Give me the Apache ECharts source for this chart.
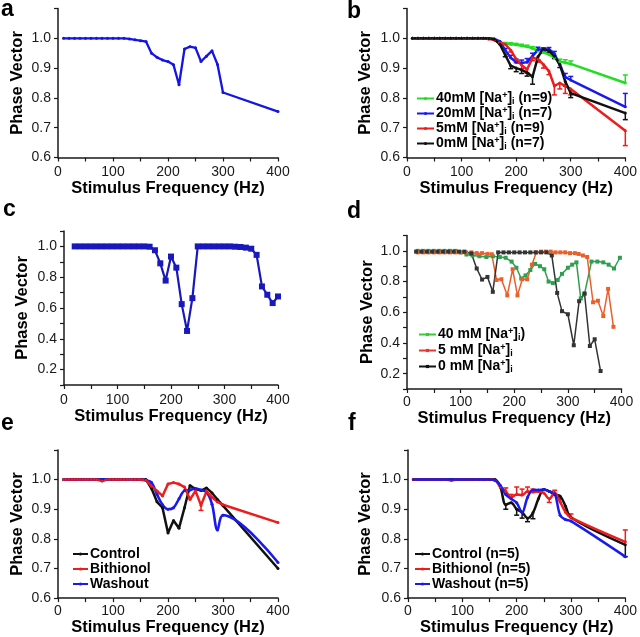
<!DOCTYPE html>
<html><head><meta charset="utf-8">
<script src="https://cdn.jsdelivr.net/npm/echarts@6/dist/echarts.min.js"></script>
<style>html,body{margin:0;padding:0;background:#fff}#c{width:640px;height:637px}</style>
</head><body><div id="c"></div>
<script>
// ---------- data ----------
const stdFreq = [10,20,30,40,50,60,70,80,90,100,110,120,130,140,150,160,170,180,190,200,210,220,230,240,250,260,270,280,290,300,400];
const xTicks = [0,100,200,300,400];

// panel a
const aPhase = [1,1,1,1,1,1,1,1,1,1,1,1,0.998,0.995,0.992,0.989,0.95,0.936,0.927,0.922,0.911,0.844,0.964,0.972,0.968,0.922,0.94,0.958,0.912,0.818,0.754];

// panel b
const bNames = ['40mM [Na⁺]ᵢ (n=9)','20mM [Na⁺]ᵢ (n=7)','5mM [Na⁺]ᵢ (n=9)','0mM [Na⁺]ᵢ (n=7)'];
const b40 = [1,1,1,1,1,1,1,1,1,1,1,1,1,1,0.999,0.998,0.985,0.982,0.98,0.978,0.975,0.972,0.966,0.958,0.952,0.946,0.935,0.922,0.918,0.914,0.85];
const b20 = [1,1,1,1,1,1,1,1,1,1,1,1,1,1,0.999,0.998,0.99,0.96,0.935,0.92,0.917,0.92,0.94,0.962,0.962,0.963,0.948,0.91,0.87,0.86,0.77];
const b5  = [1,1,1,1,1,1,1,1,1,1,1,1,1,0.999,0.998,0.994,0.985,0.98,0.96,0.93,0.91,0.895,0.935,0.93,0.912,0.89,0.84,0.85,0.84,0.83,0.69];
const b0  = [1,1,1,1,1,1,1,1,1,1,1,1,1,1,0.999,0.997,0.98,0.944,0.908,0.9,0.894,0.885,0.871,0.938,0.964,0.958,0.94,0.912,0.855,0.816,0.749];
const b40Err = [0,0,0,0,0,0,0,0,0,0,0,0,0,0,0,0,0.004,0.004,0.005,0.005,0.005,0.005,0.006,0.006,0.006,0.007,0.008,0.008,0.01,0.01,0.027];
const b20Err = [0,0,0,0,0,0,0,0,0,0,0,0,0,0,0,0,0,0.006,0.008,0.01,0.01,0.012,0.01,0.008,0.006,0.006,0.008,0.01,0.012,0.012,0.045];
const b5Err  = [0,0,0,0,0,0,0,0,0,0,0,0,0,0,0,0,0,0,-0.006,-0.012,-0.012,-0.012,-0.01,-0.01,-0.012,-0.012,-0.03,-0.02,-0.025,-0.02,-0.05];
const b0Err  = [0,0,0,0,0,0,0,0,0,0,0,0,0,0,0,0,0,-0.006,-0.01,-0.012,-0.012,-0.012,-0.025,-0.01,-0.006,-0.006,-0.008,-0.01,-0.015,-0.015,-0.022];

// panel c
const cFreq = [20,30,40,50,60,70,80,90,100,110,120,130,140,150,160,170,180,190,200,210,220,230,240,250,260,270,280,290,300,310,320,330,340,350,360,370,380,390,400];
const cPhase = [1,1,1,1,1,1,1,1,1,1,1,1,1,1,0.998,0.975,0.89,0.778,0.934,0.862,0.625,0.451,0.664,1,1,1,1,1,1,1,0.998,0.996,0.992,0.985,0.945,0.74,0.686,0.632,0.675];

// panel d
const dNames = ['40 mM [Na⁺]ᵢ)','5 mM [Na⁺]ᵢ','0 mM [Na⁺]ᵢ'];
const d40Freq = [20,30,40,50,60,70,80,90,100,111,122,135,148,160,173,184,195,204,213,221,230,239,248,256,264,272,281,289,300,308,316,324,331,344,355,366,376,386,397];
const d40Phase = [1,1,1,1,1,1,1,1,0.99,0.976,0.97,0.965,0.96,0.965,0.96,0.955,0.93,0.89,0.82,0.84,0.875,0.915,0.9,0.88,0.8,0.79,0.81,0.85,0.89,0.91,0.925,0.69,0.72,0.93,0.93,0.925,0.91,0.885,0.955];
const d5Freq = [20,30,40,50,60,70,80,90,100,110,120,130,140,150,158,167,176,187,197,206,215,224,233,241,250,259,268,277,286,295,304,313,320,328,336,347,356,366,375,385];
const d5Phase = [0.99,0.99,0.99,0.99,0.99,0.99,0.99,0.99,0.99,0.99,0.99,0.985,0.985,0.98,0.978,0.81,0.815,0.71,0.88,0.71,0.815,0.815,0.91,0.99,0.995,0.995,0.995,0.99,0.99,0.99,0.985,0.985,0.98,0.97,0.96,0.665,0.675,0.575,0.752,0.505];
const d0Freq = [17,27,37,47,57,67,77,87,97,107,120,130,140,150,160,170,180,190,200,210,220,230,240,250,260,270,280,289,300,311,321,331,341,350,361];
const d0Phase = [0.995,0.995,0.995,0.995,0.995,0.995,0.995,0.995,0.995,0.995,0.983,0.885,0.813,0.83,0.733,0.99,0.99,0.99,0.99,0.99,0.99,0.99,0.99,0.99,0.99,0.97,0.726,0.607,0.587,0.385,0.672,0.722,0.38,0.424,0.217];

// panel e
const eNames = ['Control','Bithionol','Washout'];
const eControl = [1,1,1,1,1,1,1,1,1,1,1,1,1,1,1,1,0.97,0.925,0.905,0.82,0.862,0.836,0.905,0.98,0.968,0.963,0.972,0.955,0.933,0.912,0.7];
const eBithionol = [1,1,1,1,1,1,1,0.995,1,1,1,1,1,1,1,0.998,0.978,0.962,0.945,0.985,0.99,0.985,0.975,0.933,0.962,0.913,0.96,0.94,0.925,0.915,0.855];
const eWashout = [1,1,1,1,1,1,1,1,1,1,1,1,1,1,1,0.998,0.99,0.95,0.915,0.9,0.905,0.935,0.963,0.965,0.97,0.965,0.958,0.917,0.83,0.88,0.72];
const eBithionolErr = [0,0,0,0,0,0,0,0,0,0,0,0,0,0,0,0,0,0,0,0,0,0,0,0,0,-0.017,0,0,0,0,0];

// panel f
const fNames = ['Control (n=5)','Bithionol (n=5)','Washout (n=5)'];
const fControl = [1,1,1,1,1,1,1,1,1,1,1,1,1,1,1,1,0.975,0.915,0.922,0.9,0.89,0.87,0.888,0.935,0.967,0.96,0.95,0.944,0.91,0.872,0.78];
const fBithionol = [1,1,1,1,1,1,1,0.997,1,1,1,1,1,1,1,0.998,0.975,0.96,0.94,0.95,0.948,0.96,0.958,0.96,0.955,0.935,0.956,0.925,0.89,0.872,0.79];
const fWashout = [1,1,1,1,1,1,1,1,1,1,1,1,1,1,1,0.998,0.98,0.95,0.935,0.922,0.889,0.94,0.965,0.965,0.967,0.96,0.952,0.88,0.865,0.86,0.74];
const fControlErr = [0,0,0,0,0,0,0,0,0,0,0,0,0,0,0,0,0,-0.015,0,-0.02,-0.02,-0.012,-0.02,0,0,0,0,0,0,0,-0.04];
const fBithionolErr = [0,0,0,0,0,0,0,0,0,0,0,0,0,0,0,0,0,0.012,0.01,0.025,0.02,0.015,0.01,0,0,-0.012,0.008,0.01,0.01,0.012,0.04];

// ---------- helpers ----------
const FONT = '"Liberation Sans", Arial, Helvetica, sans-serif';
const INK = '#1a1a1a';
const pairs = (xs, ys) => xs.map((x, i) => [x, ys[i]]);
const errPairs = (xs, ys, es) => xs.map((x, i) => [x, ys[i], es[i]]).filter(d => d[2] !== 0);

const grids = [
  {left: 58, top: 8.5, width: 220, height: 149},
  {left: 407, top: 8.5, width: 221, height: 149},
  {left: 64, top: 231, width: 214, height: 154},
  {left: 407, top: 235.5, width: 214.5, height: 153.5},
  {left: 58, top: 450, width: 220, height: 150},
  {left: 408, top: 450, width: 220, height: 150}
];

function xAxis(i, nameGap, labelMargin) {
  return {
    gridIndex: i, type: 'value', min: 0, max: 400, interval: 50,
    axisLine: {lineStyle: {color: INK, width: 1.5}},
    axisTick: {length: 4, lineStyle: {color: INK, width: 1.2}},
    axisLabel: {margin: labelMargin, fontFamily: FONT, fontSize: 14, color: INK,
      formatter: v => xTicks.includes(v) ? String(v) : ''},
    splitLine: {show: false},
    name: 'Stimulus Frequency (Hz)', nameLocation: 'middle', nameGap: nameGap,
    nameTextStyle: {fontFamily: FONT, fontWeight: 'bold', fontSize: 16.5, color: '#000'}
  };
}
function yAxis(i, min, labelEvery2, nameGap) {
  return {
    gridIndex: i, type: 'value', min: min, max: 1.1, interval: 0.1,
    axisLine: {show: true, lineStyle: {color: INK, width: 1.5}},
    axisTick: {show: true, length: 4, lineStyle: {color: INK, width: 1.2}},
    axisLabel: {margin: 7, fontFamily: FONT, fontSize: 14, color: INK,
      formatter: v => {
        const t = Math.round(v * 10);
        if (t > 10) return '';
        if (labelEvery2 && t % 2 !== 0) return '';
        return (t / 10).toFixed(1);
      }},
    splitLine: {show: false},
    name: 'Phase Vector', nameLocation: 'middle', nameGap: nameGap,
    nameTextStyle: {fontFamily: FONT, fontWeight: 'bold', fontSize: 16.5, color: '#000'}
  };
}
function line(i, name, data, color, width, symbol, size, extra) {
  return Object.assign({
    type: 'line', name: name, xAxisIndex: i, yAxisIndex: i, data: data,
    symbol: symbol, symbolSize: size, showSymbol: true,
    lineStyle: {color: color, width: width}, itemStyle: {color: color},
    animation: false
  }, extra || {});
}
function errBars(i, data, color) {
  return {
    type: 'custom', xAxisIndex: i, yAxisIndex: i, data: data, animation: false, silent: true,
    renderItem: (params, api) => {
      const x = api.value(0), y = api.value(1), e = api.value(2);
      const p0 = api.coord([x, y]), p1 = api.coord([x, y + e]);
      const w = 2.5;
      return {type: 'group', children: [
        {type: 'line', shape: {x1: p0[0], y1: p0[1], x2: p1[0], y2: p1[1]}, style: {stroke: color, lineWidth: 1.5}},
        {type: 'line', shape: {x1: p1[0] - w, y1: p1[1], x2: p1[0] + w, y2: p1[1]}, style: {stroke: color, lineWidth: 1.5}}
      ]};
    }
  };
}
const richFmt = n => n.replace('⁺', '{sup|+}').replace('ᵢ', '{sub|i}');
const richStyles = {
  sup: {fontFamily: FONT, fontWeight: 'bold', fontSize: 9, color: '#000', verticalAlign: 'top', lineHeight: 9},
  sub: {fontFamily: FONT, fontWeight: 'bold', fontSize: 9, color: '#000', verticalAlign: 'bottom', lineHeight: 9}
};
function legend(names, left, top, iw, gap, colors) {
  return {
    orient: 'vertical', left: left, top: top, itemWidth: iw, itemHeight: 4, itemGap: gap,
    padding: 0,
    data: names.map((n, k) => colors ? {name: n, itemStyle: {color: colors[k]}, lineStyle: {color: colors[k]}} : n),
    formatter: richFmt,
    textStyle: {fontFamily: FONT, fontWeight: 'bold', fontSize: 14, color: '#000', lineHeight: 15, padding: [0, 0, 0, -3], rich: richStyles},
    selectedMode: false
  };
}
function letter(t, x, baseline) {
  return {type: 'text', left: x, top: baseline - 17,
    style: {text: t, font: 'bold 23px ' + FONT, fill: '#000'}};
}

// colours
const C = {
  blueA: '#1414e6', green: '#22dd22', blue: '#1a1aee', red: '#ee1c1c', black: '#111111',
  blueC: '#1818bc', greenD: '#2f9e50', redD: '#e8602c', blackD: '#333333'
};

const series = [
  // a
  line(0, 'a', pairs(stdFreq, aPhase), C.blueA, 2.3, 'circle', 3),
  // b
  line(1, bNames[0], pairs(stdFreq, b40), C.green, 2.5, 'circle', 3),
  errBars(1, errPairs(stdFreq, b40, b40Err), C.green),
  line(1, bNames[1], pairs(stdFreq, b20), C.blue, 2.5, 'circle', 3),
  errBars(1, errPairs(stdFreq, b20, b20Err), C.blue),
  line(1, bNames[2], pairs(stdFreq, b5), C.red, 2.5, 'circle', 3),
  errBars(1, errPairs(stdFreq, b5, b5Err), C.red),
  line(1, bNames[3], pairs(stdFreq, b0), C.black, 2.5, 'circle', 3),
  errBars(1, errPairs(stdFreq, b0, b0Err), C.black),
  // c
  line(2, 'c', pairs(cFreq, cPhase), C.blueC, 2.2, 'rect', 6),
  // d
  line(3, dNames[0], pairs(d40Freq, d40Phase), C.greenD, 1.5, 'rect', 4),
  line(3, dNames[1], pairs(d5Freq, d5Phase), C.redD, 1.5, 'rect', 4),
  line(3, dNames[2], pairs(d0Freq, d0Phase), C.blackD, 1.5, 'rect', 4),
  // e
  line(4, eNames[0], pairs(stdFreq, eControl), C.black, 2.5, 'circle', 3),
  line(4, eNames[2], pairs(stdFreq, eWashout), C.blue, 2.6, 'circle', 3, {smooth: 0.35}),
  line(4, eNames[1], pairs(stdFreq, eBithionol), C.red, 2.5, 'circle', 3),
  errBars(4, errPairs(stdFreq, eBithionol, eBithionolErr), C.red),
  // f
  line(5, fNames[0], pairs(stdFreq, fControl), C.black, 2.5, 'circle', 3, {smooth: 0.35}),
  errBars(5, errPairs(stdFreq, fControl, fControlErr), C.black),
  line(5, fNames[1], pairs(stdFreq, fBithionol), C.red, 2.5, 'circle', 3, {smooth: 0.35}),
  errBars(5, errPairs(stdFreq, fBithionol, fBithionolErr), C.red),
  line(5, fNames[2], pairs(stdFreq, fWashout), C.blue, 2.5, 'circle', 3, {smooth: 0.35})
];

const chart = echarts.init(document.getElementById('c'), null, {renderer: 'canvas'});
chart.setOption({
  backgroundColor: '#fff',
  animation: false,
  grid: grids,
  xAxis: [xAxis(0, 20, 8), xAxis(1, 20, 8), xAxis(2, 19, 8), xAxis(3, 15, 6), xAxis(4, 16, 6), xAxis(5, 16, 6)],
  yAxis: [yAxis(0, 0.6, false, 32), yAxis(1, 0.6, false, 33), yAxis(2, 0.1, true, 33), yAxis(3, 0.1, true, 31), yAxis(4, 0.6, false, 32), yAxis(5, 0.6, false, 34)],
  legend: [
    legend(bNames, 416, 91, 17, 0, null),
    legend(dNames, 418, 327, 17, 1, ['#33cc33', '#ee3333', '#111111']),
    legend(eNames, 72, 546.5, 15, 0, null),
    legend(fNames, 414, 546.5, 15, 0, null)
  ],
  graphic: [letter('a', 1, 15), letter('b', 347, 17), letter('c', 3, 215), letter('d', 347, 217), letter('e', 1, 429), letter('f', 348, 429)],
  series: series
});
</script></body></html>
